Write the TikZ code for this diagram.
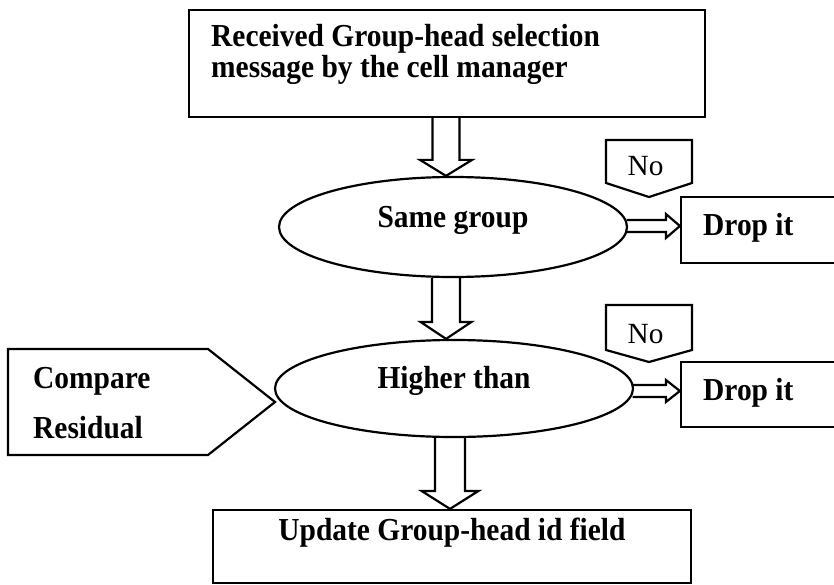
\documentclass[tikz,border=0pt]{standalone}
\usepackage{fontspec}
\setmainfont{Liberation Serif}[FakeStretch=0.92]
\newfontfamily\plainserif{Liberation Serif}
\usetikzlibrary{calc,shapes.geometric}
\tikzset{
  ln/.style={line width=2.2pt, line join=miter},
  bigtxt/.style={font=\fontsize{32}{30}\selectfont\bfseries},
  notxt/.style={font=\plainserif\fontsize{29.3}{30}\selectfont},
  boxshape/.style={ln, draw, rectangle, inner sep=0pt},
  ovalshape/.style={ln, draw, ellipse, inner sep=0pt, bigtxt, text height=13pt, text depth=13pt},
  blockarrow/.style={ln, draw},
  plaintext/.style={inner sep=0pt},
}
% hollow block arrow pointing down: start, end, shaft half width, head half width, head length
\newcommand{\blockdown}[5]{%
  \draw[blockarrow] ($(#1)+(-#3,0pt)$) -- ($(#2)+(-#3,#5)$) -- ($(#2)+(-#4,#5)$) -- (#2)
     -- ($(#2)+(#4,#5)$) -- ($(#2)+(#3,#5)$) -- ($(#1)+(#3,0pt)$);}
% hollow block arrow pointing right
\newcommand{\blockright}[5]{%
  \draw[blockarrow] ($(#1)+(0pt,#3)$) -- ($(#2)+(-#5,#3)$) -- ($(#2)+(-#5,#4)$) -- (#2)
     -- ($(#2)+(-#5,-#4)$) -- ($(#2)+(-#5,-#3)$) -- ($(#1)+(0pt,-#3)$);}
\begin{document}
\begin{tikzpicture}[x=1pt,y=-1pt]
\useasboundingbox (0,0) rectangle (834,585);
\clip (0,0) rectangle (834,585);

% top box
\node[boxshape, minimum width=516pt, minimum height=107pt] (recv) at (447,63.5) {};
\node[plaintext, bigtxt, anchor=base west] (recvA) at (211,47) {Received Group-head selection};
\node[plaintext, bigtxt, anchor=base west] (recvB) at (211,78) {message by the cell manager};

% decisions
\node[ovalshape, minimum width=348pt, minimum height=100pt] (same) at (453,227) {Same group};
\node[ovalshape, minimum width=358pt, minimum height=97pt] (higher) at (454,388.5) {Higher than};

% drop boxes (run off the right border)
\node[boxshape, minimum width=159pt, minimum height=66pt] (drop1) at (760.5,230) {};
\node[plaintext, bigtxt, anchor=base west] (drop1t) at (703,235) {Drop it};
\node[boxshape, minimum width=159pt, minimum height=65pt] (drop2) at (760.5,394.5) {};
\node[plaintext, bigtxt, anchor=base west] (drop2t) at (703,400) {Drop it};

% bottom box
\node[boxshape, bigtxt, minimum width=478pt, minimum height=73pt, text height=20pt, text depth=33pt]
      (upd) at (452,546.5) {Update Group-head id field};

% "No" callouts
\draw[ln] (606,140) -- (692,140) -- (692,183) -- (649,197) -- (606,183) -- cycle;
\node[plaintext, notxt, anchor=base] (no1) at (645.5,176) {No};
\draw[ln] (606,305) -- (692,305) -- (692,350) -- (649,362) -- (606,350) -- cycle;
\node[plaintext, notxt, anchor=base] (no2) at (645.5,343) {No};

% Compare Residual pointer
\draw[ln] (8,349) -- (208,349) -- (275,402) -- (208,455) -- (8,455) -- cycle;
\node[plaintext, bigtxt, anchor=base west] (cmpA) at (33,388) {Compare};
\node[plaintext, bigtxt, anchor=base west] (cmpB) at (33,438) {Residual};

% connector coordinates
\coordinate (ax1) at (446,0);
\coordinate (ax3) at (450,0);
\coordinate (a1s) at (recv.south -| ax1);
\coordinate (a1e) at (same.north -| ax1);
\coordinate (a2s) at (same.south -| ax1);
\coordinate (a2e) at (higher.north -| ax1);
\coordinate (a3s) at (higher.south -| ax3);
\coordinate (a3e) at (upd.north -| ax3);
\coordinate (r1s) at ($(same.east)+(-1.5pt,1pt)$);
\coordinate (r1e) at (drop1.west |- r1s);
\coordinate (r2s) at ($(higher.east)+(-1.5pt,-2.5pt)$);
\coordinate (r2e) at (drop2.west |- r2s);

% hollow arrows
\blockdown{a1s}{a1e}{13.5pt}{26pt}{16pt}
\blockdown{a2s}{a2e}{14pt}{25.5pt}{17pt}
\blockdown{a3s}{a3e}{15pt}{28.5pt}{18pt}
\blockright{r1s}{r1e}{6pt}{12pt}{14pt}
\blockright{r2s}{r2e}{6pt}{11pt}{14pt}
\end{tikzpicture}
\end{document}
